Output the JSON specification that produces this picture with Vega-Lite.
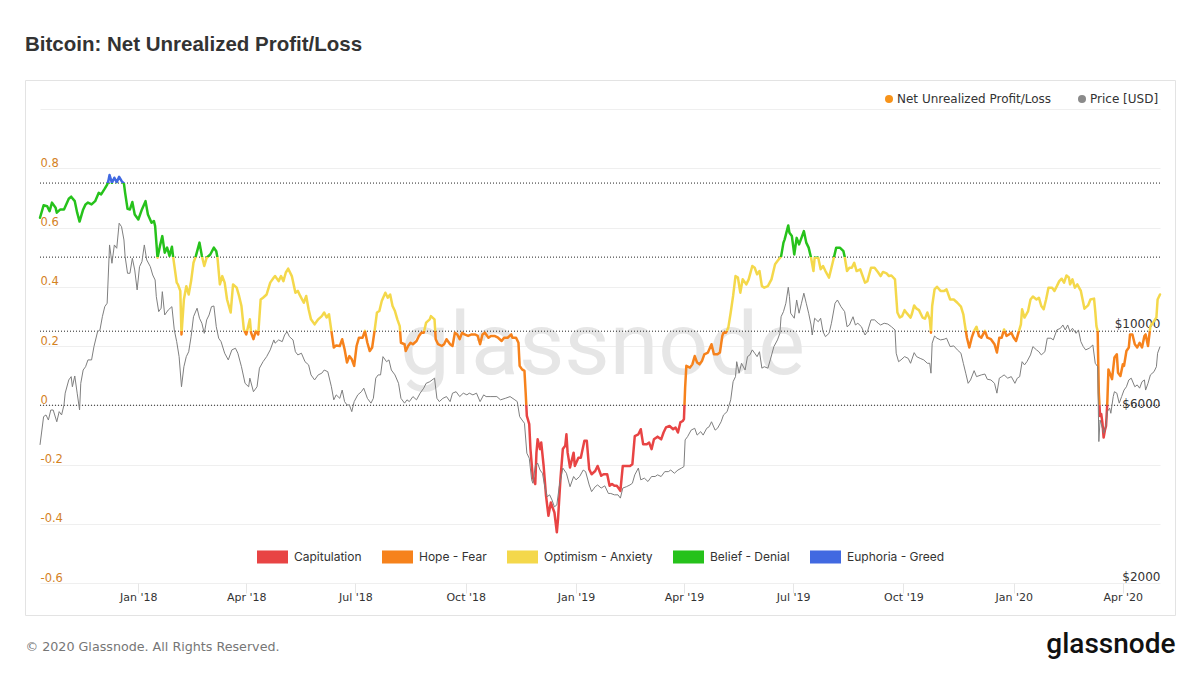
{
  "$schema": "https://vega.github.io/schema/vega-lite/v6.json",
  "width": 1150,
  "height": 535,
  "autosize": {"type": "none"},
  "padding": {"left": 25, "top": 80, "right": 25, "bottom": 60},
  "background": "#ffffff",
  "config": {"view": {"stroke": "#e3e3e3", "strokeWidth": 1}, "font": "DejaVu Sans"},
  "title": {
    "text": "Bitcoin: Net Unrealized Profit/Loss",
    "anchor": "start",
    "frame": "group",
    "offset": 30,
    "dy": 21,
    "baseline": "alphabetic",
    "font": "Liberation Sans",
    "fontSize": 20.5,
    "fontWeight": "bold",
    "color": "#333333"
  },
  "datasets": {
    "nupl": [
      {"d": "2017-10-11", "n": 0.633}, {"d": "2017-10-14", "n": 0.675}, {"d": "2017-10-17", "n": 0.672}, {"d": "2017-10-19", "n": 0.655},
      {"d": "2017-10-21", "n": 0.684}, {"d": "2017-10-24", "n": 0.667}, {"d": "2017-10-25", "n": 0.650}, {"d": "2017-10-28", "n": 0.661},
      {"d": "2017-10-31", "n": 0.661}, {"d": "2017-11-04", "n": 0.697}, {"d": "2017-11-06", "n": 0.704}, {"d": "2017-11-09", "n": 0.689},
      {"d": "2017-11-11", "n": 0.650}, {"d": "2017-11-13", "n": 0.620}, {"d": "2017-11-16", "n": 0.661}, {"d": "2017-11-18", "n": 0.678},
      {"d": "2017-11-20", "n": 0.684}, {"d": "2017-11-23", "n": 0.678}, {"d": "2017-11-26", "n": 0.689}, {"d": "2017-11-29", "n": 0.717},
      {"d": "2017-12-01", "n": 0.712}, {"d": "2017-12-04", "n": 0.731}, {"d": "2017-12-06", "n": 0.745}, {"d": "2017-12-07", "n": 0.757},
      {"d": "2017-12-08", "n": 0.777}, {"d": "2017-12-10", "n": 0.751}, {"d": "2017-12-12", "n": 0.768}, {"d": "2017-12-14", "n": 0.753},
      {"d": "2017-12-16", "n": 0.771}, {"d": "2017-12-18", "n": 0.757}, {"d": "2017-12-20", "n": 0.748}, {"d": "2017-12-21", "n": 0.717},
      {"d": "2017-12-23", "n": 0.663}, {"d": "2017-12-25", "n": 0.661}, {"d": "2017-12-27", "n": 0.686}, {"d": "2017-12-29", "n": 0.644},
      {"d": "2018-01-01", "n": 0.627}, {"d": "2018-01-04", "n": 0.661}, {"d": "2018-01-07", "n": 0.689}, {"d": "2018-01-09", "n": 0.644},
      {"d": "2018-01-12", "n": 0.616}, {"d": "2018-01-14", "n": 0.622}, {"d": "2018-01-15", "n": 0.605}, {"d": "2018-01-17", "n": 0.498},
      {"d": "2018-01-19", "n": 0.537}, {"d": "2018-01-21", "n": 0.571}, {"d": "2018-01-23", "n": 0.515}, {"d": "2018-01-25", "n": 0.532},
      {"d": "2018-01-27", "n": 0.504}, {"d": "2018-01-29", "n": 0.535}, {"d": "2018-01-30", "n": 0.502}, {"d": "2018-02-02", "n": 0.414},
      {"d": "2018-02-03", "n": 0.408}, {"d": "2018-02-05", "n": 0.386}, {"d": "2018-02-06", "n": 0.239}, {"d": "2018-02-08", "n": 0.357},
      {"d": "2018-02-10", "n": 0.402}, {"d": "2018-02-12", "n": 0.374}, {"d": "2018-02-14", "n": 0.419}, {"d": "2018-02-16", "n": 0.481},
      {"d": "2018-02-18", "n": 0.504}, {"d": "2018-02-21", "n": 0.549}, {"d": "2018-02-23", "n": 0.504}, {"d": "2018-02-25", "n": 0.470},
      {"d": "2018-02-27", "n": 0.498}, {"d": "2018-03-02", "n": 0.509}, {"d": "2018-03-05", "n": 0.532}, {"d": "2018-03-07", "n": 0.520},
      {"d": "2018-03-08", "n": 0.498}, {"d": "2018-03-10", "n": 0.408}, {"d": "2018-03-12", "n": 0.436}, {"d": "2018-03-14", "n": 0.414},
      {"d": "2018-03-16", "n": 0.357}, {"d": "2018-03-19", "n": 0.313}, {"d": "2018-03-21", "n": 0.408}, {"d": "2018-03-24", "n": 0.397},
      {"d": "2018-03-26", "n": 0.369}, {"d": "2018-03-28", "n": 0.335}, {"d": "2018-03-30", "n": 0.256}, {"d": "2018-04-01", "n": 0.239},
      {"d": "2018-04-04", "n": 0.290}, {"d": "2018-04-05", "n": 0.245}, {"d": "2018-04-07", "n": 0.223}, {"d": "2018-04-09", "n": 0.251},
      {"d": "2018-04-11", "n": 0.239}, {"d": "2018-04-13", "n": 0.357}, {"d": "2018-04-15", "n": 0.363}, {"d": "2018-04-18", "n": 0.374},
      {"d": "2018-04-21", "n": 0.414}, {"d": "2018-04-24", "n": 0.431}, {"d": "2018-04-25", "n": 0.436}, {"d": "2018-04-28", "n": 0.419},
      {"d": "2018-04-30", "n": 0.436}, {"d": "2018-05-02", "n": 0.419}, {"d": "2018-05-04", "n": 0.448}, {"d": "2018-05-06", "n": 0.461},
      {"d": "2018-05-09", "n": 0.436}, {"d": "2018-05-12", "n": 0.380}, {"d": "2018-05-14", "n": 0.386}, {"d": "2018-05-16", "n": 0.369},
      {"d": "2018-05-19", "n": 0.346}, {"d": "2018-05-21", "n": 0.369}, {"d": "2018-05-23", "n": 0.324}, {"d": "2018-05-25", "n": 0.290},
      {"d": "2018-05-28", "n": 0.273}, {"d": "2018-05-31", "n": 0.290}, {"d": "2018-06-03", "n": 0.301}, {"d": "2018-06-05", "n": 0.313},
      {"d": "2018-06-07", "n": 0.296}, {"d": "2018-06-09", "n": 0.307}, {"d": "2018-06-11", "n": 0.251}, {"d": "2018-06-13", "n": 0.195},
      {"d": "2018-06-15", "n": 0.202}, {"d": "2018-06-18", "n": 0.200}, {"d": "2018-06-20", "n": 0.223}, {"d": "2018-06-22", "n": 0.189},
      {"d": "2018-06-24", "n": 0.144}, {"d": "2018-06-26", "n": 0.166}, {"d": "2018-06-28", "n": 0.155}, {"d": "2018-06-30", "n": 0.133},
      {"d": "2018-07-02", "n": 0.200}, {"d": "2018-07-04", "n": 0.228}, {"d": "2018-07-07", "n": 0.228}, {"d": "2018-07-09", "n": 0.251},
      {"d": "2018-07-11", "n": 0.211}, {"d": "2018-07-13", "n": 0.183}, {"d": "2018-07-15", "n": 0.195}, {"d": "2018-07-17", "n": 0.251},
      {"d": "2018-07-19", "n": 0.313}, {"d": "2018-07-21", "n": 0.318}, {"d": "2018-07-23", "n": 0.352}, {"d": "2018-07-26", "n": 0.380},
      {"d": "2018-07-28", "n": 0.363}, {"d": "2018-07-30", "n": 0.374}, {"d": "2018-08-01", "n": 0.335}, {"d": "2018-08-03", "n": 0.318},
      {"d": "2018-08-05", "n": 0.290}, {"d": "2018-08-07", "n": 0.267}, {"d": "2018-08-08", "n": 0.211}, {"d": "2018-08-11", "n": 0.206},
      {"d": "2018-08-12", "n": 0.183}, {"d": "2018-08-14", "n": 0.200}, {"d": "2018-08-16", "n": 0.211}, {"d": "2018-08-18", "n": 0.206},
      {"d": "2018-08-21", "n": 0.217}, {"d": "2018-08-23", "n": 0.234}, {"d": "2018-08-25", "n": 0.245}, {"d": "2018-08-27", "n": 0.245},
      {"d": "2018-08-29", "n": 0.279}, {"d": "2018-09-01", "n": 0.290}, {"d": "2018-09-02", "n": 0.301}, {"d": "2018-09-05", "n": 0.290},
      {"d": "2018-09-06", "n": 0.223}, {"d": "2018-09-08", "n": 0.206}, {"d": "2018-09-11", "n": 0.200}, {"d": "2018-09-13", "n": 0.206},
      {"d": "2018-09-15", "n": 0.223}, {"d": "2018-09-18", "n": 0.206}, {"d": "2018-09-20", "n": 0.200}, {"d": "2018-09-22", "n": 0.245},
      {"d": "2018-09-24", "n": 0.239}, {"d": "2018-09-26", "n": 0.223}, {"d": "2018-09-28", "n": 0.245}, {"d": "2018-09-30", "n": 0.239},
      {"d": "2018-10-03", "n": 0.234}, {"d": "2018-10-06", "n": 0.239}, {"d": "2018-10-09", "n": 0.239}, {"d": "2018-10-11", "n": 0.234},
      {"d": "2018-10-13", "n": 0.206}, {"d": "2018-10-15", "n": 0.239}, {"d": "2018-10-17", "n": 0.245}, {"d": "2018-10-20", "n": 0.228},
      {"d": "2018-10-22", "n": 0.234}, {"d": "2018-10-25", "n": 0.234}, {"d": "2018-10-28", "n": 0.228}, {"d": "2018-10-31", "n": 0.217},
      {"d": "2018-11-02", "n": 0.228}, {"d": "2018-11-05", "n": 0.228}, {"d": "2018-11-08", "n": 0.239}, {"d": "2018-11-09", "n": 0.228},
      {"d": "2018-11-12", "n": 0.228}, {"d": "2018-11-14", "n": 0.211}, {"d": "2018-11-15", "n": 0.133}, {"d": "2018-11-17", "n": 0.121},
      {"d": "2018-11-19", "n": 0.116}, {"d": "2018-11-20", "n": 0.043}, {"d": "2018-11-21", "n": -0.036}, {"d": "2018-11-23", "n": -0.064},
      {"d": "2018-11-24", "n": -0.148}, {"d": "2018-11-26", "n": -0.244}, {"d": "2018-11-28", "n": -0.266}, {"d": "2018-11-29", "n": -0.160},
      {"d": "2018-11-30", "n": -0.115}, {"d": "2018-12-02", "n": -0.148}, {"d": "2018-12-03", "n": -0.126}, {"d": "2018-12-05", "n": -0.205},
      {"d": "2018-12-07", "n": -0.306}, {"d": "2018-12-09", "n": -0.373}, {"d": "2018-12-11", "n": -0.328}, {"d": "2018-12-12", "n": -0.340},
      {"d": "2018-12-14", "n": -0.362}, {"d": "2018-12-16", "n": -0.429}, {"d": "2018-12-17", "n": -0.384}, {"d": "2018-12-19", "n": -0.250},
      {"d": "2018-12-21", "n": -0.148}, {"d": "2018-12-23", "n": -0.137}, {"d": "2018-12-24", "n": -0.098}, {"d": "2018-12-25", "n": -0.160},
      {"d": "2018-12-27", "n": -0.210}, {"d": "2018-12-30", "n": -0.160}, {"d": "2018-12-31", "n": -0.205}, {"d": "2019-01-03", "n": -0.177},
      {"d": "2019-01-05", "n": -0.177}, {"d": "2019-01-08", "n": -0.120}, {"d": "2019-01-10", "n": -0.120}, {"d": "2019-01-12", "n": -0.216},
      {"d": "2019-01-14", "n": -0.233}, {"d": "2019-01-17", "n": -0.222}, {"d": "2019-01-19", "n": -0.205}, {"d": "2019-01-22", "n": -0.238},
      {"d": "2019-01-24", "n": -0.233}, {"d": "2019-01-27", "n": -0.233}, {"d": "2019-01-29", "n": -0.272}, {"d": "2019-01-31", "n": -0.266},
      {"d": "2019-02-02", "n": -0.272}, {"d": "2019-02-04", "n": -0.272}, {"d": "2019-02-06", "n": -0.283}, {"d": "2019-02-07", "n": -0.289},
      {"d": "2019-02-09", "n": -0.205}, {"d": "2019-02-12", "n": -0.205}, {"d": "2019-02-15", "n": -0.205}, {"d": "2019-02-17", "n": -0.199},
      {"d": "2019-02-19", "n": -0.104}, {"d": "2019-02-22", "n": -0.098}, {"d": "2019-02-24", "n": -0.081}, {"d": "2019-02-26", "n": -0.132},
      {"d": "2019-03-01", "n": -0.132}, {"d": "2019-03-03", "n": -0.126}, {"d": "2019-03-05", "n": -0.148}, {"d": "2019-03-07", "n": -0.115},
      {"d": "2019-03-10", "n": -0.106}, {"d": "2019-03-13", "n": -0.115}, {"d": "2019-03-15", "n": -0.092}, {"d": "2019-03-17", "n": -0.075},
      {"d": "2019-03-20", "n": -0.070}, {"d": "2019-03-23", "n": -0.081}, {"d": "2019-03-25", "n": -0.075}, {"d": "2019-03-27", "n": -0.092},
      {"d": "2019-03-29", "n": -0.058}, {"d": "2019-03-31", "n": -0.053}, {"d": "2019-04-01", "n": -0.047}, {"d": "2019-04-02", "n": 0.060},
      {"d": "2019-04-03", "n": 0.133}, {"d": "2019-04-06", "n": 0.127}, {"d": "2019-04-08", "n": 0.138}, {"d": "2019-04-10", "n": 0.166},
      {"d": "2019-04-12", "n": 0.144}, {"d": "2019-04-14", "n": 0.138}, {"d": "2019-04-16", "n": 0.149}, {"d": "2019-04-18", "n": 0.172},
      {"d": "2019-04-21", "n": 0.178}, {"d": "2019-04-24", "n": 0.206}, {"d": "2019-04-26", "n": 0.172}, {"d": "2019-04-29", "n": 0.172},
      {"d": "2019-05-01", "n": 0.178}, {"d": "2019-05-03", "n": 0.234}, {"d": "2019-05-04", "n": 0.245}, {"d": "2019-05-06", "n": 0.245},
      {"d": "2019-05-08", "n": 0.262}, {"d": "2019-05-10", "n": 0.313}, {"d": "2019-05-12", "n": 0.369}, {"d": "2019-05-14", "n": 0.436},
      {"d": "2019-05-16", "n": 0.431}, {"d": "2019-05-18", "n": 0.380}, {"d": "2019-05-20", "n": 0.425}, {"d": "2019-05-23", "n": 0.408},
      {"d": "2019-05-25", "n": 0.425}, {"d": "2019-05-28", "n": 0.470}, {"d": "2019-05-30", "n": 0.464}, {"d": "2019-06-01", "n": 0.442},
      {"d": "2019-06-03", "n": 0.453}, {"d": "2019-06-05", "n": 0.402}, {"d": "2019-06-07", "n": 0.397}, {"d": "2019-06-10", "n": 0.402},
      {"d": "2019-06-13", "n": 0.425}, {"d": "2019-06-16", "n": 0.476}, {"d": "2019-06-18", "n": 0.487}, {"d": "2019-06-21", "n": 0.502},
      {"d": "2019-06-23", "n": 0.549}, {"d": "2019-06-24", "n": 0.560}, {"d": "2019-06-27", "n": 0.607}, {"d": "2019-06-28", "n": 0.582},
      {"d": "2019-06-30", "n": 0.571}, {"d": "2019-07-02", "n": 0.509}, {"d": "2019-07-04", "n": 0.565}, {"d": "2019-07-06", "n": 0.543},
      {"d": "2019-07-08", "n": 0.565}, {"d": "2019-07-10", "n": 0.588}, {"d": "2019-07-12", "n": 0.549}, {"d": "2019-07-14", "n": 0.532},
      {"d": "2019-07-16", "n": 0.498}, {"d": "2019-07-18", "n": 0.453}, {"d": "2019-07-19", "n": 0.498}, {"d": "2019-07-22", "n": 0.498},
      {"d": "2019-07-24", "n": 0.459}, {"d": "2019-07-26", "n": 0.470}, {"d": "2019-07-28", "n": 0.453}, {"d": "2019-07-31", "n": 0.431},
      {"d": "2019-08-02", "n": 0.464}, {"d": "2019-08-04", "n": 0.498}, {"d": "2019-08-06", "n": 0.532}, {"d": "2019-08-09", "n": 0.532},
      {"d": "2019-08-12", "n": 0.520}, {"d": "2019-08-13", "n": 0.502}, {"d": "2019-08-15", "n": 0.453}, {"d": "2019-08-17", "n": 0.464},
      {"d": "2019-08-19", "n": 0.464}, {"d": "2019-08-21", "n": 0.481}, {"d": "2019-08-23", "n": 0.453}, {"d": "2019-08-26", "n": 0.459},
      {"d": "2019-08-30", "n": 0.414}, {"d": "2019-09-01", "n": 0.419}, {"d": "2019-09-04", "n": 0.464}, {"d": "2019-09-07", "n": 0.464},
      {"d": "2019-09-10", "n": 0.448}, {"d": "2019-09-12", "n": 0.436}, {"d": "2019-09-14", "n": 0.450}, {"d": "2019-09-17", "n": 0.445},
      {"d": "2019-09-19", "n": 0.436}, {"d": "2019-09-21", "n": 0.438}, {"d": "2019-09-24", "n": 0.425}, {"d": "2019-09-25", "n": 0.369},
      {"d": "2019-09-26", "n": 0.313}, {"d": "2019-09-28", "n": 0.296}, {"d": "2019-09-30", "n": 0.301}, {"d": "2019-10-02", "n": 0.321},
      {"d": "2019-10-04", "n": 0.310}, {"d": "2019-10-07", "n": 0.296}, {"d": "2019-10-08", "n": 0.307}, {"d": "2019-10-10", "n": 0.337},
      {"d": "2019-10-12", "n": 0.326}, {"d": "2019-10-14", "n": 0.321}, {"d": "2019-10-17", "n": 0.296}, {"d": "2019-10-19", "n": 0.292},
      {"d": "2019-10-21", "n": 0.313}, {"d": "2019-10-23", "n": 0.290}, {"d": "2019-10-24", "n": 0.245}, {"d": "2019-10-25", "n": 0.335},
      {"d": "2019-10-27", "n": 0.391}, {"d": "2019-10-29", "n": 0.400}, {"d": "2019-11-01", "n": 0.386}, {"d": "2019-11-04", "n": 0.386},
      {"d": "2019-11-06", "n": 0.391}, {"d": "2019-11-09", "n": 0.357}, {"d": "2019-11-12", "n": 0.357}, {"d": "2019-11-15", "n": 0.346},
      {"d": "2019-11-18", "n": 0.333}, {"d": "2019-11-20", "n": 0.307}, {"d": "2019-11-21", "n": 0.279}, {"d": "2019-11-23", "n": 0.228},
      {"d": "2019-11-25", "n": 0.195}, {"d": "2019-11-27", "n": 0.228}, {"d": "2019-11-29", "n": 0.251}, {"d": "2019-12-01", "n": 0.265},
      {"d": "2019-12-03", "n": 0.234}, {"d": "2019-12-05", "n": 0.228}, {"d": "2019-12-08", "n": 0.251}, {"d": "2019-12-10", "n": 0.228},
      {"d": "2019-12-13", "n": 0.223}, {"d": "2019-12-16", "n": 0.206}, {"d": "2019-12-18", "n": 0.178}, {"d": "2019-12-20", "n": 0.228},
      {"d": "2019-12-22", "n": 0.228}, {"d": "2019-12-24", "n": 0.256}, {"d": "2019-12-26", "n": 0.234}, {"d": "2019-12-28", "n": 0.239},
      {"d": "2019-12-30", "n": 0.245}, {"d": "2020-01-01", "n": 0.228}, {"d": "2020-01-03", "n": 0.217}, {"d": "2020-01-05", "n": 0.245},
      {"d": "2020-01-07", "n": 0.273}, {"d": "2020-01-08", "n": 0.324}, {"d": "2020-01-10", "n": 0.296}, {"d": "2020-01-13", "n": 0.318},
      {"d": "2020-01-15", "n": 0.357}, {"d": "2020-01-17", "n": 0.367}, {"d": "2020-01-20", "n": 0.357}, {"d": "2020-01-22", "n": 0.363},
      {"d": "2020-01-24", "n": 0.335}, {"d": "2020-01-26", "n": 0.324}, {"d": "2020-01-28", "n": 0.357}, {"d": "2020-01-30", "n": 0.397},
      {"d": "2020-02-02", "n": 0.397}, {"d": "2020-02-04", "n": 0.386}, {"d": "2020-02-06", "n": 0.402}, {"d": "2020-02-08", "n": 0.419},
      {"d": "2020-02-10", "n": 0.427}, {"d": "2020-02-12", "n": 0.414}, {"d": "2020-02-14", "n": 0.438}, {"d": "2020-02-16", "n": 0.431},
      {"d": "2020-02-17", "n": 0.408}, {"d": "2020-02-19", "n": 0.425}, {"d": "2020-02-21", "n": 0.397}, {"d": "2020-02-23", "n": 0.408},
      {"d": "2020-02-26", "n": 0.386}, {"d": "2020-02-28", "n": 0.346}, {"d": "2020-02-29", "n": 0.326}, {"d": "2020-03-03", "n": 0.337},
      {"d": "2020-03-05", "n": 0.357}, {"d": "2020-03-08", "n": 0.360}, {"d": "2020-03-09", "n": 0.318}, {"d": "2020-03-10", "n": 0.267},
      {"d": "2020-03-11", "n": 0.251}, {"d": "2020-03-12", "n": 0.040}, {"d": "2020-03-13", "n": -0.036}, {"d": "2020-03-14", "n": -0.030},
      {"d": "2020-03-15", "n": -0.060}, {"d": "2020-03-16", "n": -0.109}, {"d": "2020-03-17", "n": -0.085}, {"d": "2020-03-18", "n": -0.070},
      {"d": "2020-03-19", "n": 0.003}, {"d": "2020-03-20", "n": 0.121}, {"d": "2020-03-22", "n": 0.099}, {"d": "2020-03-23", "n": 0.088},
      {"d": "2020-03-25", "n": 0.161}, {"d": "2020-03-27", "n": 0.172}, {"d": "2020-03-28", "n": 0.110}, {"d": "2020-03-30", "n": 0.099},
      {"d": "2020-04-01", "n": 0.138}, {"d": "2020-04-02", "n": 0.133}, {"d": "2020-04-04", "n": 0.183}, {"d": "2020-04-06", "n": 0.195},
      {"d": "2020-04-07", "n": 0.239}, {"d": "2020-04-09", "n": 0.239}, {"d": "2020-04-11", "n": 0.206}, {"d": "2020-04-13", "n": 0.195},
      {"d": "2020-04-15", "n": 0.211}, {"d": "2020-04-17", "n": 0.195}, {"d": "2020-04-19", "n": 0.234}, {"d": "2020-04-20", "n": 0.239},
      {"d": "2020-04-22", "n": 0.200}, {"d": "2020-04-24", "n": 0.267}, {"d": "2020-04-27", "n": 0.284}, {"d": "2020-04-29", "n": 0.296},
      {"d": "2020-04-30", "n": 0.357}, {"d": "2020-05-02", "n": 0.374}
    ],
    "price": [
      {"d": "2017-10-11", "p": 4650}, {"d": "2017-10-14", "p": 5570}, {"d": "2017-10-16", "p": 5630}, {"d": "2017-10-18", "p": 5450},
      {"d": "2017-10-20", "p": 5810}, {"d": "2017-10-22", "p": 5810}, {"d": "2017-10-25", "p": 5390}, {"d": "2017-10-27", "p": 5750},
      {"d": "2017-10-29", "p": 5630}, {"d": "2017-10-31", "p": 6000}, {"d": "2017-11-01", "p": 6470}, {"d": "2017-11-04", "p": 7040},
      {"d": "2017-11-06", "p": 7190}, {"d": "2017-11-07", "p": 6740}, {"d": "2017-11-09", "p": 7220}, {"d": "2017-11-11", "p": 6470},
      {"d": "2017-11-13", "p": 5810}, {"d": "2017-11-14", "p": 6890}, {"d": "2017-11-16", "p": 7500}, {"d": "2017-11-18", "p": 7660},
      {"d": "2017-11-20", "p": 8000}, {"d": "2017-11-23", "p": 8000}, {"d": "2017-11-25", "p": 8710}, {"d": "2017-11-28", "p": 9580},
      {"d": "2017-11-30", "p": 9690}, {"d": "2017-12-02", "p": 10540}, {"d": "2017-12-04", "p": 11240}, {"d": "2017-12-06", "p": 11490},
      {"d": "2017-12-08", "p": 16670}, {"d": "2017-12-10", "p": 14830}, {"d": "2017-12-12", "p": 16670}, {"d": "2017-12-14", "p": 16320},
      {"d": "2017-12-16", "p": 19150}, {"d": "2017-12-18", "p": 18730}, {"d": "2017-12-20", "p": 17210}, {"d": "2017-12-21", "p": 15470},
      {"d": "2017-12-23", "p": 13910}, {"d": "2017-12-25", "p": 13910}, {"d": "2017-12-27", "p": 15310}, {"d": "2017-12-29", "p": 14210},
      {"d": "2017-12-31", "p": 12510}, {"d": "2018-01-02", "p": 14510}, {"d": "2018-01-04", "p": 14980}, {"d": "2018-01-06", "p": 16670},
      {"d": "2018-01-08", "p": 15150}, {"d": "2018-01-11", "p": 14510}, {"d": "2018-01-13", "p": 13760}, {"d": "2018-01-15", "p": 13330},
      {"d": "2018-01-16", "p": 11980}, {"d": "2018-01-18", "p": 10890}, {"d": "2018-01-20", "p": 11130}, {"d": "2018-01-21", "p": 12370},
      {"d": "2018-01-23", "p": 10660}, {"d": "2018-01-26", "p": 11010}, {"d": "2018-01-29", "p": 11240}, {"d": "2018-01-31", "p": 9690},
      {"d": "2018-02-02", "p": 8990}, {"d": "2018-02-04", "p": 8170}, {"d": "2018-02-06", "p": 6740}, {"d": "2018-02-08", "p": 7660},
      {"d": "2018-02-10", "p": 8170}, {"d": "2018-02-12", "p": 8430}, {"d": "2018-02-14", "p": 9280}, {"d": "2018-02-16", "p": 10540},
      {"d": "2018-02-19", "p": 11130}, {"d": "2018-02-21", "p": 10440}, {"d": "2018-02-23", "p": 10110}, {"d": "2018-02-25", "p": 9480},
      {"d": "2018-02-27", "p": 10330}, {"d": "2018-03-01", "p": 10660}, {"d": "2018-03-03", "p": 11240}, {"d": "2018-03-05", "p": 11290},
      {"d": "2018-03-07", "p": 9890}, {"d": "2018-03-09", "p": 9190}, {"d": "2018-03-11", "p": 8990}, {"d": "2018-03-14", "p": 8350},
      {"d": "2018-03-17", "p": 8000}, {"d": "2018-03-20", "p": 8530}, {"d": "2018-03-23", "p": 8620}, {"d": "2018-03-25", "p": 8350},
      {"d": "2018-03-28", "p": 7660}, {"d": "2018-03-31", "p": 6890}, {"d": "2018-04-03", "p": 6740}, {"d": "2018-04-04", "p": 7120},
      {"d": "2018-04-07", "p": 6530}, {"d": "2018-04-10", "p": 6740}, {"d": "2018-04-12", "p": 7590}, {"d": "2018-04-15", "p": 7910},
      {"d": "2018-04-18", "p": 8170}, {"d": "2018-04-21", "p": 8530}, {"d": "2018-04-24", "p": 9090}, {"d": "2018-04-25", "p": 8900},
      {"d": "2018-04-28", "p": 9090}, {"d": "2018-05-01", "p": 8990}, {"d": "2018-05-03", "p": 9380}, {"d": "2018-05-05", "p": 9580},
      {"d": "2018-05-07", "p": 9280}, {"d": "2018-05-10", "p": 9090}, {"d": "2018-05-12", "p": 8430}, {"d": "2018-05-14", "p": 8260},
      {"d": "2018-05-17", "p": 8350}, {"d": "2018-05-20", "p": 7910}, {"d": "2018-05-23", "p": 7750}, {"d": "2018-05-25", "p": 7270},
      {"d": "2018-05-28", "p": 7040}, {"d": "2018-05-31", "p": 7270}, {"d": "2018-06-03", "p": 7350}, {"d": "2018-06-05", "p": 7500},
      {"d": "2018-06-08", "p": 7420}, {"d": "2018-06-11", "p": 6740}, {"d": "2018-06-13", "p": 6200}, {"d": "2018-06-15", "p": 6400},
      {"d": "2018-06-18", "p": 6260}, {"d": "2018-06-20", "p": 6600}, {"d": "2018-06-22", "p": 6130}, {"d": "2018-06-24", "p": 6000},
      {"d": "2018-06-26", "p": 6000}, {"d": "2018-06-28", "p": 5750}, {"d": "2018-06-30", "p": 6130}, {"d": "2018-07-03", "p": 6400},
      {"d": "2018-07-06", "p": 6530}, {"d": "2018-07-08", "p": 6680}, {"d": "2018-07-11", "p": 6260}, {"d": "2018-07-14", "p": 6070},
      {"d": "2018-07-16", "p": 6260}, {"d": "2018-07-18", "p": 7120}, {"d": "2018-07-20", "p": 7270}, {"d": "2018-07-22", "p": 7270},
      {"d": "2018-07-24", "p": 8170}, {"d": "2018-07-27", "p": 7910}, {"d": "2018-07-29", "p": 8000}, {"d": "2018-07-31", "p": 7500},
      {"d": "2018-08-03", "p": 7270}, {"d": "2018-08-06", "p": 6890}, {"d": "2018-08-08", "p": 6260}, {"d": "2018-08-11", "p": 6070},
      {"d": "2018-08-13", "p": 6200}, {"d": "2018-08-15", "p": 6130}, {"d": "2018-08-18", "p": 6330}, {"d": "2018-08-21", "p": 6200},
      {"d": "2018-08-24", "p": 6470}, {"d": "2018-08-27", "p": 6680}, {"d": "2018-08-29", "p": 6890}, {"d": "2018-09-01", "p": 6960},
      {"d": "2018-09-05", "p": 7120}, {"d": "2018-09-07", "p": 6260}, {"d": "2018-09-09", "p": 6130}, {"d": "2018-09-12", "p": 6260},
      {"d": "2018-09-15", "p": 6330}, {"d": "2018-09-18", "p": 6130}, {"d": "2018-09-20", "p": 6470}, {"d": "2018-09-23", "p": 6530},
      {"d": "2018-09-26", "p": 6330}, {"d": "2018-09-29", "p": 6470}, {"d": "2018-10-02", "p": 6400}, {"d": "2018-10-04", "p": 6470},
      {"d": "2018-10-07", "p": 6400}, {"d": "2018-10-10", "p": 6470}, {"d": "2018-10-13", "p": 6130}, {"d": "2018-10-16", "p": 6400},
      {"d": "2018-10-18", "p": 6330}, {"d": "2018-10-22", "p": 6330}, {"d": "2018-10-27", "p": 6330}, {"d": "2018-10-30", "p": 6200},
      {"d": "2018-11-03", "p": 6260}, {"d": "2018-11-07", "p": 6330}, {"d": "2018-11-11", "p": 6200}, {"d": "2018-11-13", "p": 6130},
      {"d": "2018-11-15", "p": 5570}, {"d": "2018-11-17", "p": 5450}, {"d": "2018-11-19", "p": 5340}, {"d": "2018-11-21", "p": 4410},
      {"d": "2018-11-23", "p": 4270}, {"d": "2018-11-25", "p": 3720}, {"d": "2018-11-26", "p": 3640}, {"d": "2018-11-28", "p": 4050},
      {"d": "2018-11-30", "p": 4140}, {"d": "2018-12-02", "p": 3960}, {"d": "2018-12-04", "p": 3880}, {"d": "2018-12-06", "p": 3560},
      {"d": "2018-12-08", "p": 3340}, {"d": "2018-12-10", "p": 3380}, {"d": "2018-12-12", "p": 3270}, {"d": "2018-12-14", "p": 3130},
      {"d": "2018-12-16", "p": 3170}, {"d": "2018-12-18", "p": 3560}, {"d": "2018-12-21", "p": 4010}, {"d": "2018-12-24", "p": 3880},
      {"d": "2018-12-27", "p": 3560}, {"d": "2018-12-30", "p": 3800}, {"d": "2019-01-01", "p": 3720}, {"d": "2019-01-04", "p": 3800},
      {"d": "2019-01-07", "p": 3960}, {"d": "2019-01-09", "p": 3920}, {"d": "2019-01-12", "p": 3600}, {"d": "2019-01-14", "p": 3450},
      {"d": "2019-01-17", "p": 3560}, {"d": "2019-01-19", "p": 3600}, {"d": "2019-01-22", "p": 3530}, {"d": "2019-01-25", "p": 3580},
      {"d": "2019-01-28", "p": 3410}, {"d": "2019-01-30", "p": 3410}, {"d": "2019-02-02", "p": 3380}, {"d": "2019-02-05", "p": 3380},
      {"d": "2019-02-07", "p": 3310}, {"d": "2019-02-09", "p": 3530}, {"d": "2019-02-12", "p": 3560}, {"d": "2019-02-15", "p": 3600},
      {"d": "2019-02-17", "p": 3640}, {"d": "2019-02-19", "p": 3840}, {"d": "2019-02-22", "p": 4010}, {"d": "2019-02-24", "p": 3720},
      {"d": "2019-02-27", "p": 3760}, {"d": "2019-03-02", "p": 3680}, {"d": "2019-03-05", "p": 3800}, {"d": "2019-03-08", "p": 3800},
      {"d": "2019-03-10", "p": 3840}, {"d": "2019-03-13", "p": 3800}, {"d": "2019-03-16", "p": 3920}, {"d": "2019-03-19", "p": 3920},
      {"d": "2019-03-21", "p": 3960}, {"d": "2019-03-24", "p": 3880}, {"d": "2019-03-27", "p": 3960}, {"d": "2019-03-30", "p": 4010},
      {"d": "2019-04-01", "p": 4050}, {"d": "2019-04-02", "p": 4800}, {"d": "2019-04-04", "p": 4900}, {"d": "2019-04-07", "p": 5110},
      {"d": "2019-04-10", "p": 5170}, {"d": "2019-04-12", "p": 4950}, {"d": "2019-04-15", "p": 5060}, {"d": "2019-04-17", "p": 4950},
      {"d": "2019-04-20", "p": 5170}, {"d": "2019-04-22", "p": 5220}, {"d": "2019-04-24", "p": 5390}, {"d": "2019-04-27", "p": 5110},
      {"d": "2019-04-29", "p": 5170}, {"d": "2019-05-02", "p": 5390}, {"d": "2019-05-04", "p": 5630}, {"d": "2019-05-07", "p": 5750},
      {"d": "2019-05-10", "p": 6200}, {"d": "2019-05-12", "p": 6960}, {"d": "2019-05-14", "p": 7190}, {"d": "2019-05-15", "p": 7910},
      {"d": "2019-05-17", "p": 7350}, {"d": "2019-05-19", "p": 7830}, {"d": "2019-05-22", "p": 7500}, {"d": "2019-05-24", "p": 8170},
      {"d": "2019-05-26", "p": 8260}, {"d": "2019-05-28", "p": 8530}, {"d": "2019-05-30", "p": 8350}, {"d": "2019-06-01", "p": 8170},
      {"d": "2019-06-03", "p": 8430}, {"d": "2019-06-05", "p": 7590}, {"d": "2019-06-07", "p": 7660}, {"d": "2019-06-10", "p": 7590},
      {"d": "2019-06-12", "p": 8000}, {"d": "2019-06-15", "p": 8710}, {"d": "2019-06-18", "p": 9090}, {"d": "2019-06-20", "p": 9480},
      {"d": "2019-06-21", "p": 10540}, {"d": "2019-06-23", "p": 10890}, {"d": "2019-06-25", "p": 11490}, {"d": "2019-06-27", "p": 12720},
      {"d": "2019-06-28", "p": 11980}, {"d": "2019-06-29", "p": 10780}, {"d": "2019-07-02", "p": 10440}, {"d": "2019-07-04", "p": 11730},
      {"d": "2019-07-06", "p": 10780}, {"d": "2019-07-08", "p": 11490}, {"d": "2019-07-10", "p": 12250}, {"d": "2019-07-12", "p": 11490},
      {"d": "2019-07-14", "p": 10780}, {"d": "2019-07-16", "p": 10000}, {"d": "2019-07-17", "p": 9380}, {"d": "2019-07-19", "p": 10440},
      {"d": "2019-07-22", "p": 10210}, {"d": "2019-07-24", "p": 10440}, {"d": "2019-07-26", "p": 9580}, {"d": "2019-07-28", "p": 9280},
      {"d": "2019-07-31", "p": 9480}, {"d": "2019-08-02", "p": 10110}, {"d": "2019-08-05", "p": 11490}, {"d": "2019-08-07", "p": 11730},
      {"d": "2019-08-10", "p": 11240}, {"d": "2019-08-13", "p": 10890}, {"d": "2019-08-15", "p": 9890}, {"d": "2019-08-17", "p": 10000},
      {"d": "2019-08-20", "p": 10540}, {"d": "2019-08-22", "p": 10000}, {"d": "2019-08-24", "p": 10110}, {"d": "2019-08-27", "p": 9890},
      {"d": "2019-08-30", "p": 9380}, {"d": "2019-09-01", "p": 9580}, {"d": "2019-09-04", "p": 10330}, {"d": "2019-09-07", "p": 10330},
      {"d": "2019-09-10", "p": 10110}, {"d": "2019-09-12", "p": 10000}, {"d": "2019-09-15", "p": 10110}, {"d": "2019-09-18", "p": 10060},
      {"d": "2019-09-21", "p": 9890}, {"d": "2019-09-24", "p": 9690}, {"d": "2019-09-25", "p": 8350}, {"d": "2019-09-27", "p": 7910},
      {"d": "2019-09-29", "p": 8000}, {"d": "2019-10-02", "p": 8170}, {"d": "2019-10-05", "p": 8080}, {"d": "2019-10-07", "p": 7830},
      {"d": "2019-10-10", "p": 8380}, {"d": "2019-10-12", "p": 8170}, {"d": "2019-10-15", "p": 8080}, {"d": "2019-10-18", "p": 8000},
      {"d": "2019-10-21", "p": 7830}, {"d": "2019-10-23", "p": 7830}, {"d": "2019-10-24", "p": 7350}, {"d": "2019-10-25", "p": 8900},
      {"d": "2019-10-27", "p": 9320}, {"d": "2019-10-29", "p": 9190}, {"d": "2019-11-01", "p": 9090}, {"d": "2019-11-04", "p": 9130},
      {"d": "2019-11-06", "p": 9190}, {"d": "2019-11-09", "p": 8710}, {"d": "2019-11-12", "p": 8750}, {"d": "2019-11-15", "p": 8530},
      {"d": "2019-11-18", "p": 8350}, {"d": "2019-11-20", "p": 7830}, {"d": "2019-11-22", "p": 7350}, {"d": "2019-11-24", "p": 6890},
      {"d": "2019-11-26", "p": 7040}, {"d": "2019-11-29", "p": 7470}, {"d": "2019-12-01", "p": 7190}, {"d": "2019-12-05", "p": 7270},
      {"d": "2019-12-08", "p": 7310}, {"d": "2019-12-10", "p": 7070}, {"d": "2019-12-13", "p": 7040}, {"d": "2019-12-16", "p": 6890},
      {"d": "2019-12-18", "p": 6470}, {"d": "2019-12-20", "p": 7120}, {"d": "2019-12-22", "p": 7190}, {"d": "2019-12-24", "p": 7270},
      {"d": "2019-12-27", "p": 7120}, {"d": "2019-12-30", "p": 7190}, {"d": "2020-01-02", "p": 6890}, {"d": "2020-01-04", "p": 7120},
      {"d": "2020-01-06", "p": 7190}, {"d": "2020-01-08", "p": 7910}, {"d": "2020-01-10", "p": 7750}, {"d": "2020-01-12", "p": 7910},
      {"d": "2020-01-15", "p": 8260}, {"d": "2020-01-17", "p": 8710}, {"d": "2020-01-20", "p": 8530}, {"d": "2020-01-22", "p": 8430},
      {"d": "2020-01-24", "p": 8260}, {"d": "2020-01-27", "p": 8430}, {"d": "2020-01-29", "p": 9190}, {"d": "2020-02-01", "p": 9190},
      {"d": "2020-02-03", "p": 9090}, {"d": "2020-02-06", "p": 9690}, {"d": "2020-02-09", "p": 9790}, {"d": "2020-02-11", "p": 10000},
      {"d": "2020-02-13", "p": 9690}, {"d": "2020-02-15", "p": 10000}, {"d": "2020-02-17", "p": 9580}, {"d": "2020-02-19", "p": 9790},
      {"d": "2020-02-22", "p": 9480}, {"d": "2020-02-24", "p": 9690}, {"d": "2020-02-26", "p": 8990}, {"d": "2020-02-28", "p": 8710},
      {"d": "2020-03-01", "p": 8530}, {"d": "2020-03-04", "p": 8620}, {"d": "2020-03-07", "p": 8800}, {"d": "2020-03-09", "p": 7830},
      {"d": "2020-03-10", "p": 7750}, {"d": "2020-03-11", "p": 7660}, {"d": "2020-03-12", "p": 4750}, {"d": "2020-03-13", "p": 5450},
      {"d": "2020-03-15", "p": 5170}, {"d": "2020-03-16", "p": 5010}, {"d": "2020-03-18", "p": 5280}, {"d": "2020-03-19", "p": 5750},
      {"d": "2020-03-21", "p": 5880}, {"d": "2020-03-22", "p": 5690}, {"d": "2020-03-24", "p": 6330}, {"d": "2020-03-25", "p": 6530},
      {"d": "2020-03-27", "p": 6470}, {"d": "2020-03-29", "p": 6070}, {"d": "2020-03-31", "p": 6330}, {"d": "2020-04-02", "p": 6600},
      {"d": "2020-04-04", "p": 6740}, {"d": "2020-04-06", "p": 7040}, {"d": "2020-04-08", "p": 7120}, {"d": "2020-04-11", "p": 6740},
      {"d": "2020-04-13", "p": 6820}, {"d": "2020-04-15", "p": 6680}, {"d": "2020-04-17", "p": 6960}, {"d": "2020-04-19", "p": 7040},
      {"d": "2020-04-20", "p": 6600}, {"d": "2020-04-22", "p": 6890}, {"d": "2020-04-24", "p": 7270}, {"d": "2020-04-27", "p": 7420},
      {"d": "2020-04-29", "p": 7660}, {"d": "2020-04-30", "p": 8350}, {"d": "2020-05-02", "p": 8710}
    ]
  },
  "layer": [
    {
      "layer": [
        {
          "data": {"values": [{"t": 0}, {"t": 0.25}, {"t": 0.5}, {"t": 0.75}]},
          "mark": {"type": "rule", "stroke": "#222222", "strokeWidth": 1, "strokeDash": [1, 2]},
          "encoding": {
            "x": {"datum": {"year": 2017, "month": 10, "date": 11, "utc": true}, "type": "temporal",
                  "scale": {"type": "utc", "domain": [{"year": 2017, "month": 10, "date": 11, "utc": true}, {"year": 2020, "month": 5, "date": 2, "utc": true}], "range": [15, 1135], "nice": false},
                  "axis": {
                    "orient": "bottom", "offset": -32,
                    "values": [
                      {"year": 2018, "month": 1, "date": 1, "utc": true}, {"year": 2018, "month": 4, "date": 1, "utc": true},
                      {"year": 2018, "month": 7, "date": 1, "utc": true}, {"year": 2018, "month": 10, "date": 1, "utc": true},
                      {"year": 2019, "month": 1, "date": 1, "utc": true}, {"year": 2019, "month": 4, "date": 1, "utc": true},
                      {"year": 2019, "month": 7, "date": 1, "utc": true}, {"year": 2019, "month": 10, "date": 1, "utc": true},
                      {"year": 2020, "month": 1, "date": 1, "utc": true}, {"year": 2020, "month": 4, "date": 1, "utc": true}
                    ],
                    "format": "%b '%y",
                    "domain": false, "grid": false,
                    "ticks": true, "tickSize": 10, "tickColor": "#e6e6e6", "tickWidth": 1,
                    "labelPadding": -2, "labelFont": "DejaVu Sans", "labelFontSize": 11, "labelColor": "#333333",
                    "labelFlush": false, "labelOverlap": false,
                    "title": "© 2020 Glassnode. All Rights Reserved.",
                    "titleX": 0, "titleY": 67, "titleAlign": "left", "titleBaseline": "alphabetic",
                    "titleFont": "DejaVu Sans", "titleFontSize": 12.7, "titleFontWeight": "normal", "titleColor": "#767676"
                  }},
            "x2": {"datum": {"year": 2020, "month": 5, "date": 2, "utc": true}},
            "y": {"field": "t", "type": "quantitative",
                  "scale": {"domain": [-0.6, 1.0], "range": [503, 29], "nice": false, "zero": false},
                  "axis": {
                    "orient": "left", "offset": -15,
                    "values": [-0.6, -0.4, -0.2, 0, 0.2, 0.4, 0.6, 0.8, 1],
                    "labelExpr": "datum.value > 0.9 ? '' : (datum.value == 0 ? '0' : (datum.value < 0 ? '-' : '') + format(abs(datum.value), '.1f'))",
                    "grid": true, "gridColor": "#efefef", "gridWidth": 1,
                    "domain": false, "ticks": false, "tickSize": 0,
                    "labelPadding": 0, "labelAlign": "left", "labelBaseline": "alphabetic", "labelOffset": -2,
                    "labelFont": "DejaVu Sans", "labelFontSize": 11.5, "labelColor": "#d4821f",
                    "labelFlush": false, "labelOverlap": false,
                    "title": "glassnode",
                    "titleX": 562, "titleY": 293, "titleAngle": 0, "titleAlign": "center", "titleBaseline": "alphabetic",
                    "titleFont": "Roboto", "titleFontSize": 88, "titleFontWeight": "normal", "titleColor": "#e6e6e6"
                  }}
          }
        },
        {
          "data": {"name": "nupl", "format": {"parse": {"d": "date"}}},
          "mark": {
            "type": "line",
            "strokeWidth": 2.5,
            "strokeJoin": "round",
            "strokeCap": "round",
            "stroke": {
              "gradient": "linear",
              "x1": 0, "y1": 0, "x2": 0, "y2": 1,
              "stops": [
                {"offset": 0, "color": "#4169e1"},
                {"offset": 0.0224, "color": "#4169e1"},
                {"offset": 0.0224, "color": "#26c21b"},
                {"offset": 0.2297, "color": "#26c21b"},
                {"offset": 0.2297, "color": "#f4d84b"},
                {"offset": 0.437, "color": "#f4d84b"},
                {"offset": 0.437, "color": "#f6821c"},
                {"offset": 0.6443, "color": "#f6821c"},
                {"offset": 0.6443, "color": "#e84444"},
                {"offset": 1, "color": "#e84444"}
              ]
            }
          },
          "encoding": {
            "x": {"field": "d", "type": "temporal",
                  "scale": {"type": "utc", "domain": [{"year": 2017, "month": 10, "date": 11, "utc": true}, {"year": 2020, "month": 5, "date": 2, "utc": true}], "range": [15, 1135], "nice": false},
                  "axis": {
                    "orient": "bottom", "offset": -32,
                    "values": [
                      {"year": 2018, "month": 1, "date": 1, "utc": true}, {"year": 2018, "month": 4, "date": 1, "utc": true},
                      {"year": 2018, "month": 7, "date": 1, "utc": true}, {"year": 2018, "month": 10, "date": 1, "utc": true},
                      {"year": 2019, "month": 1, "date": 1, "utc": true}, {"year": 2019, "month": 4, "date": 1, "utc": true},
                      {"year": 2019, "month": 7, "date": 1, "utc": true}, {"year": 2019, "month": 10, "date": 1, "utc": true},
                      {"year": 2020, "month": 1, "date": 1, "utc": true}, {"year": 2020, "month": 4, "date": 1, "utc": true}
                    ],
                    "format": "%b '%y",
                    "domain": false, "grid": false,
                    "ticks": true, "tickSize": 10, "tickColor": "#e6e6e6", "tickWidth": 1,
                    "labelPadding": -2, "labelFont": "DejaVu Sans", "labelFontSize": 11, "labelColor": "#333333",
                    "labelFlush": false, "labelOverlap": false,
                    "title": "© 2020 Glassnode. All Rights Reserved.",
                    "titleX": 0, "titleY": 67, "titleAlign": "left", "titleBaseline": "alphabetic",
                    "titleFont": "DejaVu Sans", "titleFontSize": 12.7, "titleFontWeight": "normal", "titleColor": "#767676"
                  }},
            "y": {"field": "n", "type": "quantitative",
                  "scale": {"domain": [-0.6, 1.0], "range": [503, 29], "nice": false, "zero": false},
                  "axis": {
                    "orient": "left", "offset": -15,
                    "values": [-0.6, -0.4, -0.2, 0, 0.2, 0.4, 0.6, 0.8, 1],
                    "labelExpr": "datum.value > 0.9 ? '' : (datum.value == 0 ? '0' : (datum.value < 0 ? '-' : '') + format(abs(datum.value), '.1f'))",
                    "grid": true, "gridColor": "#efefef", "gridWidth": 1,
                    "domain": false, "ticks": false, "tickSize": 0,
                    "labelPadding": 0, "labelAlign": "left", "labelBaseline": "alphabetic", "labelOffset": -2,
                    "labelFont": "DejaVu Sans", "labelFontSize": 11.5, "labelColor": "#d4821f",
                    "labelFlush": false, "labelOverlap": false,
                    "title": "glassnode",
                    "titleX": 562, "titleY": 293, "titleAngle": 0, "titleAlign": "center", "titleBaseline": "alphabetic",
                    "titleFont": "Roboto", "titleFontSize": 88, "titleFontWeight": "normal", "titleColor": "#e6e6e6"
                  }}
          }
        }
      ]
    },
    {
      "data": {"name": "price", "format": {"parse": {"d": "date"}}},
      "mark": {"type": "line", "stroke": "#7f7f7f", "strokeWidth": 1},
      "encoding": {
        "x": {"field": "d", "type": "temporal",
              "scale": {"type": "utc", "domain": [{"year": 2017, "month": 10, "date": 11, "utc": true}, {"year": 2020, "month": 5, "date": 2, "utc": true}], "range": [15, 1135], "nice": false},
              "axis": {
                "orient": "bottom", "offset": -32,
                "values": [
                  {"year": 2018, "month": 1, "date": 1, "utc": true}, {"year": 2018, "month": 4, "date": 1, "utc": true},
                  {"year": 2018, "month": 7, "date": 1, "utc": true}, {"year": 2018, "month": 10, "date": 1, "utc": true},
                  {"year": 2019, "month": 1, "date": 1, "utc": true}, {"year": 2019, "month": 4, "date": 1, "utc": true},
                  {"year": 2019, "month": 7, "date": 1, "utc": true}, {"year": 2019, "month": 10, "date": 1, "utc": true},
                  {"year": 2020, "month": 1, "date": 1, "utc": true}, {"year": 2020, "month": 4, "date": 1, "utc": true}
                ],
                "format": "%b '%y",
                "domain": false, "grid": false,
                "ticks": true, "tickSize": 10, "tickColor": "#e6e6e6", "tickWidth": 1,
                "labelPadding": -2, "labelFont": "DejaVu Sans", "labelFontSize": 11, "labelColor": "#333333",
                "labelFlush": false, "labelOverlap": false,
                "title": "© 2020 Glassnode. All Rights Reserved.",
                "titleX": 0, "titleY": 67, "titleAlign": "left", "titleBaseline": "alphabetic",
                "titleFont": "DejaVu Sans", "titleFontSize": 12.7, "titleFontWeight": "normal", "titleColor": "#767676"
              }},
        "y": {"field": "p", "type": "quantitative",
              "scale": {"type": "log", "domain": [1925, 39716], "range": [503, 29], "nice": false},
              "axis": {
                "orient": "right", "offset": -15,
                "values": [2000, 6000, 10000],
                "labelExpr": "'$' + datum.value",
                "grid": false, "domain": false, "ticks": false, "tickSize": 0,
                "labelPadding": 0, "labelAlign": "right", "labelBaseline": "middle", "labelOffset": -1,
                "labelFont": "DejaVu Sans", "labelFontSize": 12, "labelColor": "#333333",
                "labelFlush": false, "labelOverlap": false,
                "title": "glassnode",
                "titleX": 15, "titleY": 572, "titleAngle": 0, "titleAlign": "right", "titleBaseline": "alphabetic",
                "titleFont": "Roboto", "titleFontSize": 28, "titleFontWeight": 500, "titleColor": "#111111"
              }}
      }
    },
    {
      "data": {"values": [
        {"zone": "Capitulation"}, {"zone": "Hope - Fear"}, {"zone": "Optimism - Anxiety"},
        {"zone": "Belief - Denial"}, {"zone": "Euphoria - Greed"}
      ]},
      "mark": {"type": "point", "filled": true, "opacity": 0},
      "encoding": {
        "color": {
          "field": "zone", "type": "nominal",
          "scale": {
            "domain": ["Capitulation", "Hope - Fear", "Optimism - Anxiety", "Belief - Denial", "Euphoria - Greed"],
            "range": ["#e84444", "#f6821c", "#f4d84b", "#26c21b", "#4169e1"]
          },
          "legend": {
            "orient": "none", "legendX": 232, "legendY": 461, "direction": "horizontal", "title": null,
            "symbolType": "M-1,-0.42H1V0.42H-1Z", "symbolSize": 961, "symbolStrokeWidth": 0, "symbolOpacity": 1,
            "labelFont": "Inter", "labelFontSize": 12, "labelColor": "#333333", "labelOffset": 6,
            "columnPadding": 20, "padding": 0
          }
        }
      }
    },
    {
      "data": {"values": [{"series": "Net Unrealized Profit/Loss"}, {"series": "Price [USD]"}]},
      "mark": {"type": "point", "filled": true, "opacity": 0},
      "encoding": {
        "fill": {
          "field": "series", "type": "nominal",
          "scale": {"domain": ["Net Unrealized Profit/Loss", "Price [USD]"], "range": ["#f7931a", "#8a8a8a"]},
          "legend": {
            "orient": "none", "legendX": 858, "legendY": 13, "direction": "horizontal", "title": null,
            "symbolType": "circle", "symbolSize": 64, "symbolStrokeWidth": 0, "symbolOpacity": 1,
            "labelFont": "DejaVu Sans", "labelFontSize": 12, "labelColor": "#333333", "labelOffset": 2,
            "columnPadding": 24, "padding": 0
          }
        }
      }
    }
  ],
  "resolve": {"scale": {"y": "independent"}, "axis": {"y": "independent"}}
}
